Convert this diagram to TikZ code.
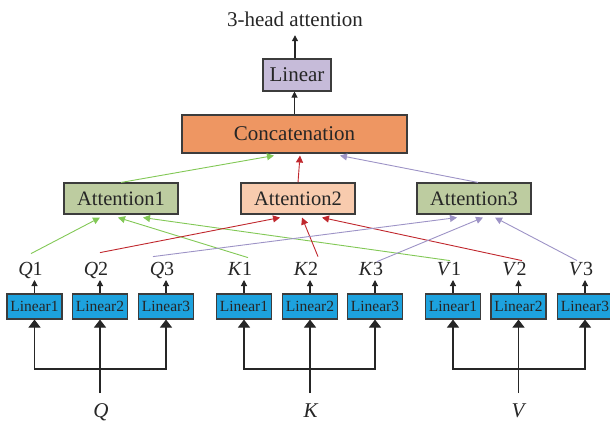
\documentclass[tikz,border=0pt]{standalone}
\usepackage{fontspec}
\setmainfont{Liberation Serif}
\usetikzlibrary{arrows.meta}
\definecolor{linpurple}{HTML}{C6BBD9}
\definecolor{concatorange}{HTML}{EE9662}
\definecolor{attgreen}{HTML}{BDCCA0}
\definecolor{attpeach}{HTML}{F8CBAE}
\definecolor{linblue}{HTML}{1DA2DE}
\definecolor{lgreen}{HTML}{82C856}
\definecolor{lred}{HTML}{C0272D}
\definecolor{lpurple}{HTML}{9D93C6}
\definecolor{ink}{HTML}{262626}
\begin{document}
\begin{tikzpicture}[x=1pt,y=-1pt,
  box/.style={draw=ink!90, line width=1.1pt, inner sep=0pt, text=ink},
  lbox/.style={box, fill=linblue, minimum width=55pt, minimum height=25pt, font=\fontsize{15.5}{17}\selectfont},
  attbox/.style={box, minimum width=114pt, minimum height=31pt, font=\fontsize{20.5}{23}\selectfont},
  lab/.style={inner sep=0pt, text height=13pt, text depth=4pt, anchor=south, text=ink, font=\fontsize{20}{22}\selectfont},
  inlab/.style={inner sep=0pt, text height=14pt, text depth=4pt, text=ink, font=\fontsize{21}{23}\selectfont},
  garr/.style={draw=lgreen, line width=0.9pt, -{Triangle[length=7pt,width=7pt]}, lgreen},
  rarr/.style={draw=lred, line width=0.9pt, -{Triangle[length=7pt,width=7pt]}, lred},
  parr/.style={draw=lpurple, line width=0.9pt, -{Triangle[length=7pt,width=7pt]}, lpurple},
  karr/.style={draw=ink, line width=1.1pt, -{Triangle[length=6pt,width=6pt]}},
  barr/.style={draw=ink, line width=1.1pt, -{Triangle[length=8pt,width=12pt]}},
  kline/.style={draw=ink, line width=1.1pt}]
\useasboundingbox (0,0) rectangle (610,423);

% top
\node[inlab, inner sep=4pt] (title) at (295,22) {3-head attention};
\node[box, fill=linpurple, minimum width=68pt, minimum height=32pt, font=\fontsize{21}{23}\selectfont] (lin) at (297,75) {Linear};
\node[box, fill=concatorange, minimum width=225pt, minimum height=38pt, font=\fontsize{21}{23}\selectfont] (cat) at (294.5,134) {Concatenation};
\draw[karr] ([xshift=-2pt]lin.north) -- ([xshift=-2pt]lin.north |- title.south);
\draw[karr] (cat.north) -- (cat.north |- lin.south);

% attention boxes
\node[attbox, fill=attgreen] (att1) at (121,198.5) {Attention1};
\node[attbox, fill=attpeach] (att2) at (298,198.5) {Attention2};
\node[attbox, fill=attgreen] (att3) at (474,198.5) {Attention3};

\draw[garr] (att1.north) -- ([shift={(-20.5,2)}]cat.south);
\draw[rarr] (att2.north) -- ([shift={(5.5,2)}]cat.south);
\draw[parr] ([xshift=4pt]att3.north) -- ([shift={(45.5,2)}]cat.south);

% linear boxes
\foreach \n/\x/\t in {qb1/34.5/Linear1, qb2/100/Linear2, qb3/166/Linear3,
                      kb1/244/Linear1, kb2/310/Linear2, kb3/375/Linear3,
                      vb1/453/Linear1, vb2/518.5/Linear2, vb3/585/Linear3}
  \node[lbox] (\n) at (\x,306.5) {\t};

% labels
\foreach \n/\b/\l/\d in {Q1/qb1/Q/1, Q2/qb2/Q/2, Q3/qb3/Q/3,
                         K1/kb1/K/1, K2/kb2/K/2, K3/kb3/K/3,
                         V1/vb1/V/1, V2/vb2/V/2, V3/vb3/V/3}
{
  \node[lab] (\n) at ([xshift=-4pt]\b.north |- 0,280) {\textit{\l}\d};
  \draw[karr] (\b.north) -- (\b.north |- 0,280);
}

% connections into attention heads
\draw[garr] ([shift={(0.5,-9)}]Q1.north) -- ([shift={(-21,3)}]att1.south);
\draw[garr] ([shift={(8,-5)}]K1.north) -- ([shift={(-3,3)}]att1.south);
\draw[garr] ([shift={(1,-2)}]V1.north) -- ([shift={(22,3)}]att1.south);

\draw[rarr] ([shift={(4,-10)}]Q2.north) -- ([shift={(-18,3)}]att2.south);
\draw[rarr] ([shift={(12,-6)}]K2.north) -- ([shift={(4,3)}]att2.south);
\draw[rarr] ([shift={(7.5,-2)}]V2.north) -- ([shift={(24,3)}]att2.south);

\draw[parr] ([shift={(-9,-6)}]Q3.north) -- ([shift={(-17,3)}]att3.south);
\draw[parr] ([shift={(6,-1)}]K3.north) -- ([shift={(9,3)}]att3.south);
\draw[parr] ([shift={(-4,-2)}]V3.north) -- ([shift={(21,3)}]att3.south);

% inputs
\node[inlab] (Qin) at (101,412) {\textit{Q}};
\node[inlab] (Kin) at (311,412) {\textit{K}};
\node[inlab] (Vin) at (519,412) {\textit{V}};
\foreach \i/\a/\b/\c/\xb in {Qin/qb1/qb2/qb3/100, Kin/kb1/kb2/kb3/310, Vin/vb1/vb2/vb3/518.5}
{
  \coordinate (bus-\i) at (\xb,369);
  \draw[kline] (bus-\i |- 0,393) -- (bus-\i);
  \draw[barr] (bus-\i) -| (\a.south);
  \draw[barr] (bus-\i) -| (\c.south);
  \draw[barr] (bus-\i) -- (\b.south);
}
\end{tikzpicture}
\end{document}
